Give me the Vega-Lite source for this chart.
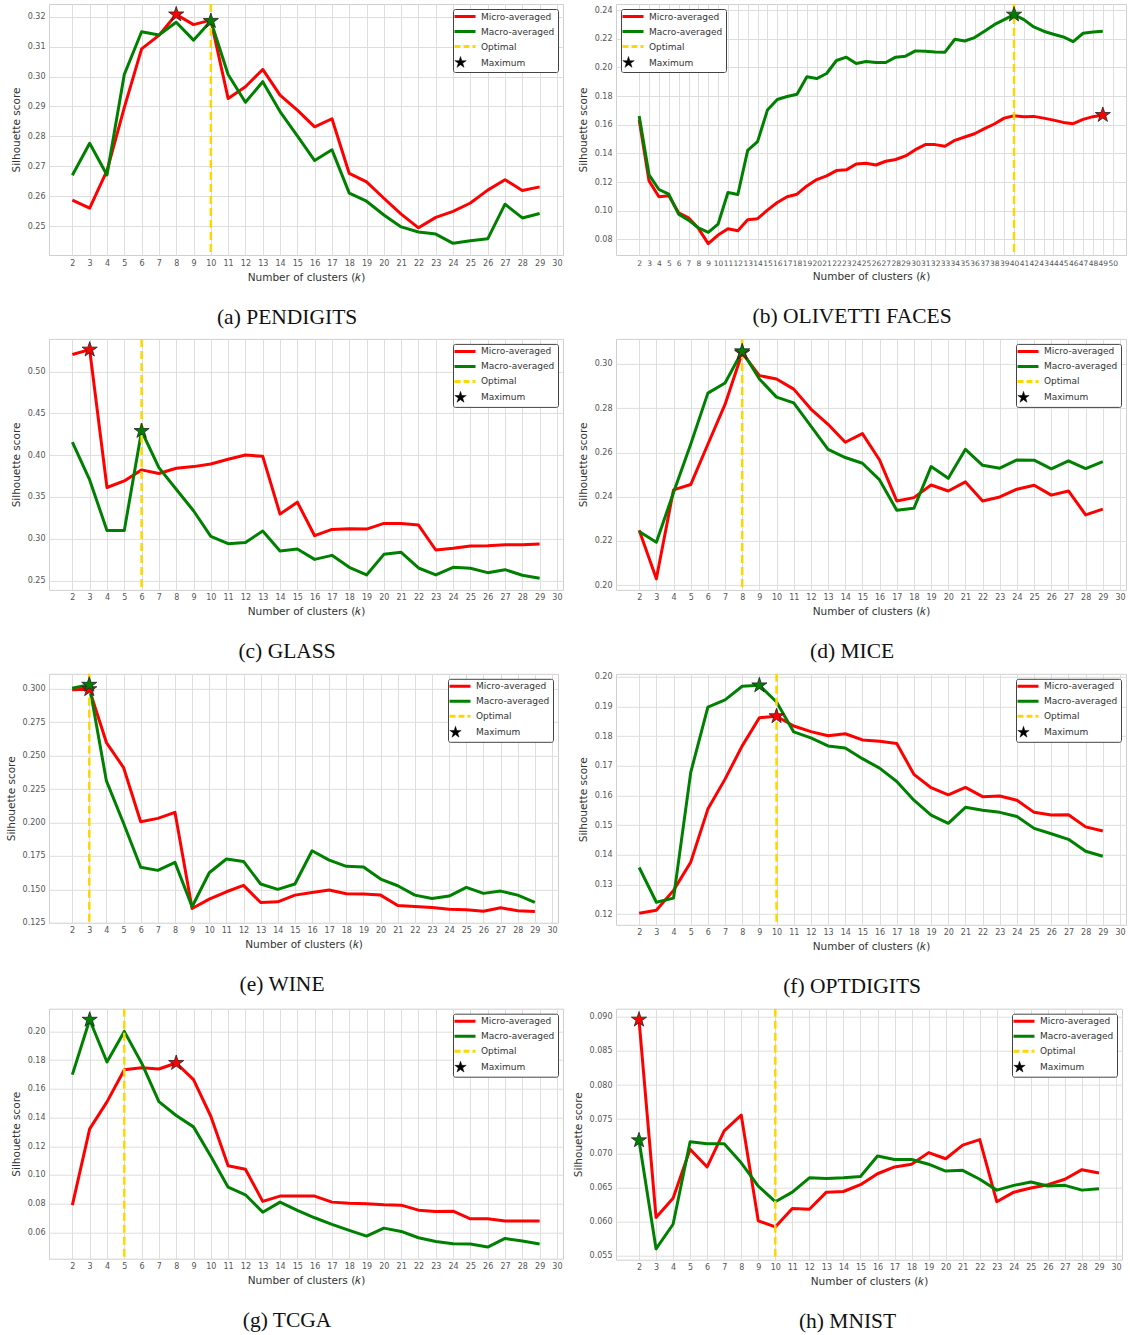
{
"$schema": "https://vega.github.io/schema/vega-lite/v6.json",
"background": "white",
"padding": {"left": 5, "top": 2, "right": 1, "bottom": 0},
"config": {
  "font": "DejaVu Sans",
  "view": {"stroke": "#cfcfcf", "strokeWidth": 1},
  "axis": {"grid": true, "gridColor": "#dedede", "gridWidth": 1, "domain": false, "ticks": false, "tickCount": 100,
    "labelFont": "DejaVu Sans", "labelFontSize": 8, "labelColor": "#555", "labelPadding": 4,
    "labelOverlap": false, "labelFlush": false, "labelBound": false,
    "titleFont": "DejaVu Sans", "titleFontSize": 10.5, "titleFontWeight": "normal", "titleColor": "#333"},
  "axisX": {"titlePadding": 5},
  "axisY": {"titlePadding": 6},
  "legend": {"labelFont": "DejaVu Sans", "labelFontSize": 9, "labelColor": "#333", "strokeColor": "#444",
    "fillColor": "white", "padding": 3, "cornerRadius": 2, "rowPadding": 2, "symbolSize": 144,
    "symbolStrokeWidth": 3, "labelOffset": 16, "offset": 5, "orient": "top-right"},
  "title": {"orient": "bottom", "frame": "bounds", "font": "Liberation Serif", "fontSize": 21.5, "fontWeight": "normal", "color": "#111", "offset": 24, "anchor": "middle"}
},
"datasets": {
"pendigits": [
{"k":2,"Micro-averaged":0.2587,"Macro-averaged":0.2670},{"k":3,"Micro-averaged":0.2560,"Macro-averaged":0.2777},{"k":4,"Micro-averaged":0.2685,"Macro-averaged":0.2671},{"k":5,"Micro-averaged":0.2896,"Macro-averaged":0.3007},{"k":6,"Micro-averaged":0.3093,"Macro-averaged":0.3150},{"k":7,"Micro-averaged":0.3138,"Macro-averaged":0.3139},{"k":8,"Micro-averaged":0.3208,"Macro-averaged":0.3182},{"k":9,"Micro-averaged":0.3174,"Macro-averaged":0.3122},{"k":10,"Micro-averaged":0.3189,"Macro-averaged":0.3186},{"k":11,"Micro-averaged":0.2927,"Macro-averaged":0.3007},{"k":12,"Micro-averaged":0.2966,"Macro-averaged":0.2914},{"k":13,"Micro-averaged":0.3024,"Macro-averaged":0.2983},{"k":14,"Micro-averaged":0.2938,"Macro-averaged":0.2883},{"k":15,"Micro-averaged":0.2888,"Macro-averaged":0.2802},{"k":16,"Micro-averaged":0.2832,"Macro-averaged":0.2719},{"k":17,"Micro-averaged":0.2859,"Macro-averaged":0.2755},{"k":18,"Micro-averaged":0.2676,"Macro-averaged":0.2610},{"k":19,"Micro-averaged":0.2648,"Macro-averaged":0.2583},{"k":20,"Micro-averaged":0.2593,"Macro-averaged":0.2537},{"k":21,"Micro-averaged":0.2540,"Macro-averaged":0.2497},{"k":22,"Micro-averaged":0.2494,"Macro-averaged":0.2480},{"k":23,"Micro-averaged":0.2529,"Macro-averaged":0.2473},{"k":24,"Micro-averaged":0.2549,"Macro-averaged":0.2442},{"k":25,"Micro-averaged":0.2577,"Macro-averaged":0.2451},{"k":26,"Micro-averaged":0.2620,"Macro-averaged":0.2457},{"k":27,"Micro-averaged":0.2655,"Macro-averaged":0.2573},{"k":28,"Micro-averaged":0.2619,"Macro-averaged":0.2527},{"k":29,"Micro-averaged":0.2631,"Macro-averaged":0.2542}],
"olivetti": [
{"k":2,"Micro-averaged":0.1632,"Macro-averaged":0.1660},{"k":3,"Micro-averaged":0.1208,"Macro-averaged":0.1250},{"k":4,"Micro-averaged":0.1097,"Macro-averaged":0.1148},{"k":5,"Micro-averaged":0.1104,"Macro-averaged":0.1115},{"k":6,"Micro-averaged":0.0986,"Macro-averaged":0.0976},{"k":7,"Micro-averaged":0.0951,"Macro-averaged":0.0934},{"k":8,"Micro-averaged":0.0877,"Macro-averaged":0.0881},{"k":9,"Micro-averaged":0.0770,"Macro-averaged":0.0849},{"k":10,"Micro-averaged":0.0830,"Macro-averaged":0.0907},{"k":11,"Micro-averaged":0.0874,"Macro-averaged":0.1127},{"k":12,"Micro-averaged":0.0860,"Macro-averaged":0.1113},{"k":13,"Micro-averaged":0.0937,"Macro-averaged":0.1421},{"k":14,"Micro-averaged":0.0944,"Macro-averaged":0.1482},{"k":15,"Micro-averaged":0.1004,"Macro-averaged":0.1702},{"k":16,"Micro-averaged":0.1057,"Macro-averaged":0.1776},{"k":17,"Micro-averaged":0.1097,"Macro-averaged":0.1797},{"k":18,"Micro-averaged":0.1115,"Macro-averaged":0.1813},{"k":19,"Micro-averaged":0.1173,"Macro-averaged":0.1934},{"k":20,"Micro-averaged":0.1217,"Macro-averaged":0.1922},{"k":21,"Micro-averaged":0.1243,"Macro-averaged":0.1957},{"k":22,"Micro-averaged":0.1280,"Macro-averaged":0.2048},{"k":23,"Micro-averaged":0.1285,"Macro-averaged":0.2071},{"k":24,"Micro-averaged":0.1326,"Macro-averaged":0.2027},{"k":25,"Micro-averaged":0.1331,"Macro-averaged":0.2041},{"k":26,"Micro-averaged":0.1319,"Macro-averaged":0.2034},{"k":27,"Micro-averaged":0.1345,"Macro-averaged":0.2034},{"k":28,"Micro-averaged":0.1357,"Macro-averaged":0.2071},{"k":29,"Micro-averaged":0.1382,"Macro-averaged":0.2078},{"k":30,"Micro-averaged":0.1426,"Macro-averaged":0.2115},{"k":31,"Micro-averaged":0.1461,"Macro-averaged":0.2112},{"k":32,"Micro-averaged":0.1461,"Macro-averaged":0.2108},{"k":33,"Micro-averaged":0.1449,"Macro-averaged":0.2106},{"k":34,"Micro-averaged":0.1491,"Macro-averaged":0.2196},{"k":35,"Micro-averaged":0.1514,"Macro-averaged":0.2184},{"k":36,"Micro-averaged":0.1537,"Macro-averaged":0.2208},{"k":37,"Micro-averaged":0.1572,"Macro-averaged":0.2252},{"k":38,"Micro-averaged":0.1605,"Macro-averaged":0.2298},{"k":39,"Micro-averaged":0.1646,"Macro-averaged":0.2333},{"k":40,"Micro-averaged":0.1662,"Macro-averaged":0.2368},{"k":41,"Micro-averaged":0.1656,"Macro-averaged":0.2333},{"k":42,"Micro-averaged":0.1658,"Macro-averaged":0.2282},{"k":43,"Micro-averaged":0.1646,"Macro-averaged":0.2252},{"k":44,"Micro-averaged":0.1632,"Macro-averaged":0.2231},{"k":45,"Micro-averaged":0.1616,"Macro-averaged":0.2212},{"k":46,"Micro-averaged":0.1607,"Macro-averaged":0.2180},{"k":47,"Micro-averaged":0.1637,"Macro-averaged":0.2238},{"k":48,"Micro-averaged":0.1656,"Macro-averaged":0.2247},{"k":49,"Micro-averaged":0.1668,"Macro-averaged":0.2252}],
"glass": [
{"k":2,"Micro-averaged":0.5203,"Macro-averaged":0.4157},{"k":3,"Micro-averaged":0.5262,"Macro-averaged":0.3704},{"k":4,"Micro-averaged":0.3613,"Macro-averaged":0.3100},{"k":5,"Micro-averaged":0.3692,"Macro-averaged":0.3100},{"k":6,"Micro-averaged":0.3824,"Macro-averaged":0.4289},{"k":7,"Micro-averaged":0.3780,"Macro-averaged":0.3851},{"k":8,"Micro-averaged":0.3843,"Macro-averaged":0.3593},{"k":9,"Micro-averaged":0.3863,"Macro-averaged":0.3335},{"k":10,"Micro-averaged":0.3895,"Macro-averaged":0.3029},{"k":11,"Micro-averaged":0.3951,"Macro-averaged":0.2941},{"k":12,"Micro-averaged":0.4002,"Macro-averaged":0.2957},{"k":13,"Micro-averaged":0.3986,"Macro-averaged":0.3092},{"k":14,"Micro-averaged":0.3295,"Macro-averaged":0.2854},{"k":15,"Micro-averaged":0.3438,"Macro-averaged":0.2878},{"k":16,"Micro-averaged":0.3037,"Macro-averaged":0.2754},{"k":17,"Micro-averaged":0.3112,"Macro-averaged":0.2802},{"k":18,"Micro-averaged":0.3120,"Macro-averaged":0.2659},{"k":19,"Micro-averaged":0.3116,"Macro-averaged":0.2568},{"k":20,"Micro-averaged":0.3184,"Macro-averaged":0.2814},{"k":21,"Micro-averaged":0.3184,"Macro-averaged":0.2838},{"k":22,"Micro-averaged":0.3164,"Macro-averaged":0.2651},{"k":23,"Micro-averaged":0.2866,"Macro-averaged":0.2568},{"k":24,"Micro-averaged":0.2886,"Macro-averaged":0.2659},{"k":25,"Micro-averaged":0.2913,"Macro-averaged":0.2647},{"k":26,"Micro-averaged":0.2917,"Macro-averaged":0.2595},{"k":27,"Micro-averaged":0.2929,"Macro-averaged":0.2631},{"k":28,"Micro-averaged":0.2929,"Macro-averaged":0.2564},{"k":29,"Micro-averaged":0.2937,"Macro-averaged":0.2528}],
"mice": [
{"k":2,"Micro-averaged":0.2249,"Macro-averaged":0.2243},{"k":3,"Micro-averaged":0.2029,"Macro-averaged":0.2194},{"k":4,"Micro-averaged":0.2431,"Macro-averaged":0.2419},{"k":5,"Micro-averaged":0.2455,"Macro-averaged":0.2637},{"k":6,"Micro-averaged":0.2637,"Macro-averaged":0.2868},{"k":7,"Micro-averaged":0.2817,"Macro-averaged":0.2914},{"k":8,"Micro-averaged":0.3050,"Macro-averaged":0.3057},{"k":9,"Micro-averaged":0.2947,"Macro-averaged":0.2932},{"k":10,"Micro-averaged":0.2932,"Macro-averaged":0.2850},{"k":11,"Micro-averaged":0.2886,"Macro-averaged":0.2824},{"k":12,"Micro-averaged":0.2796,"Macro-averaged":0.2719},{"k":13,"Micro-averaged":0.2727,"Macro-averaged":0.2614},{"k":14,"Micro-averaged":0.2646,"Macro-averaged":0.2577},{"k":15,"Micro-averaged":0.2685,"Macro-averaged":0.2551},{"k":16,"Micro-averaged":0.2566,"Macro-averaged":0.2476},{"k":17,"Micro-averaged":0.2381,"Macro-averaged":0.2339},{"k":18,"Micro-averaged":0.2396,"Macro-averaged":0.2348},{"k":19,"Micro-averaged":0.2453,"Macro-averaged":0.2536},{"k":20,"Micro-averaged":0.2426,"Macro-averaged":0.2483},{"k":21,"Micro-averaged":0.2467,"Macro-averaged":0.2614},{"k":22,"Micro-averaged":0.2381,"Macro-averaged":0.2542},{"k":23,"Micro-averaged":0.2399,"Macro-averaged":0.2529},{"k":24,"Micro-averaged":0.2434,"Macro-averaged":0.2566},{"k":25,"Micro-averaged":0.2452,"Macro-averaged":0.2565},{"k":26,"Micro-averaged":0.2407,"Macro-averaged":0.2526},{"k":27,"Micro-averaged":0.2426,"Macro-averaged":0.2562},{"k":28,"Micro-averaged":0.2318,"Macro-averaged":0.2527},{"k":29,"Micro-averaged":0.2344,"Macro-averaged":0.2559}],
"wine": [
{"k":2,"Micro-averaged":0.2993,"Macro-averaged":0.3005},{"k":3,"Micro-averaged":0.2997,"Macro-averaged":0.3030},{"k":4,"Micro-averaged":0.2598,"Macro-averaged":0.2311},{"k":5,"Micro-averaged":0.2411,"Macro-averaged":0.1994},{"k":6,"Micro-averaged":0.2006,"Macro-averaged":0.1665},{"k":7,"Micro-averaged":0.2031,"Macro-averaged":0.1642},{"k":8,"Micro-averaged":0.2076,"Macro-averaged":0.1702},{"k":9,"Micro-averaged":0.1357,"Macro-averaged":0.1370},{"k":10,"Micro-averaged":0.1427,"Macro-averaged":0.1624},{"k":11,"Micro-averaged":0.1482,"Macro-averaged":0.1727},{"k":12,"Micro-averaged":0.1530,"Macro-averaged":0.1709},{"k":13,"Micro-averaged":0.1402,"Macro-averaged":0.1540},{"k":14,"Micro-averaged":0.1407,"Macro-averaged":0.1500},{"k":15,"Micro-averaged":0.1457,"Macro-averaged":0.1540},{"k":16,"Micro-averaged":0.1477,"Macro-averaged":0.1789},{"k":17,"Micro-averaged":0.1495,"Macro-averaged":0.1719},{"k":18,"Micro-averaged":0.1467,"Macro-averaged":0.1672},{"k":19,"Micro-averaged":0.1465,"Macro-averaged":0.1667},{"k":20,"Micro-averaged":0.1457,"Macro-averaged":0.1577},{"k":21,"Micro-averaged":0.1380,"Macro-averaged":0.1527},{"k":22,"Micro-averaged":0.1372,"Macro-averaged":0.1457},{"k":23,"Micro-averaged":0.1365,"Macro-averaged":0.1432},{"k":24,"Micro-averaged":0.1352,"Macro-averaged":0.1450},{"k":25,"Micro-averaged":0.1347,"Macro-averaged":0.1515},{"k":26,"Micro-averaged":0.1337,"Macro-averaged":0.1470},{"k":27,"Micro-averaged":0.1362,"Macro-averaged":0.1487},{"k":28,"Micro-averaged":0.1340,"Macro-averaged":0.1457},{"k":29,"Micro-averaged":0.1335,"Macro-averaged":0.1402}],
"optdigits": [
{"k":2,"Micro-averaged":0.1203,"Macro-averaged":0.1357},{"k":3,"Micro-averaged":0.1213,"Macro-averaged":0.1240},{"k":4,"Micro-averaged":0.1280,"Macro-averaged":0.1254},{"k":5,"Micro-averaged":0.1375,"Macro-averaged":0.1677},{"k":6,"Micro-averaged":0.1554,"Macro-averaged":0.1898},{"k":7,"Micro-averaged":0.1655,"Macro-averaged":0.1922},{"k":8,"Micro-averaged":0.1767,"Macro-averaged":0.1968},{"k":9,"Micro-averaged":0.1862,"Macro-averaged":0.1971},{"k":10,"Micro-averaged":0.1867,"Macro-averaged":0.1915},{"k":11,"Micro-averaged":0.1834,"Macro-averaged":0.1814},{"k":12,"Micro-averaged":0.1815,"Macro-averaged":0.1794},{"k":13,"Micro-averaged":0.1801,"Macro-averaged":0.1767},{"k":14,"Micro-averaged":0.1808,"Macro-averaged":0.1760},{"k":15,"Micro-averaged":0.1787,"Macro-averaged":0.1724},{"k":16,"Micro-averaged":0.1783,"Macro-averaged":0.1692},{"k":17,"Micro-averaged":0.1775,"Macro-averaged":0.1647},{"k":18,"Micro-averaged":0.1671,"Macro-averaged":0.1584},{"k":19,"Micro-averaged":0.1626,"Macro-averaged":0.1534},{"k":20,"Micro-averaged":0.1602,"Macro-averaged":0.1506},{"k":21,"Micro-averaged":0.1627,"Macro-averaged":0.1560},{"k":22,"Micro-averaged":0.1596,"Macro-averaged":0.1550},{"k":23,"Micro-averaged":0.1598,"Macro-averaged":0.1543},{"k":24,"Micro-averaged":0.1584,"Macro-averaged":0.1529},{"k":25,"Micro-averaged":0.1543,"Macro-averaged":0.1489},{"k":26,"Micro-averaged":0.1534,"Macro-averaged":0.1471},{"k":27,"Micro-averaged":0.1535,"Macro-averaged":0.1452},{"k":28,"Micro-averaged":0.1494,"Macro-averaged":0.1412},{"k":29,"Micro-averaged":0.1480,"Macro-averaged":0.1395}],
"tcga": [
{"k":2,"Micro-averaged":0.0790,"Macro-averaged":0.1699},{"k":3,"Micro-averaged":0.1321,"Macro-averaged":0.2081},{"k":4,"Micro-averaged":0.1509,"Macro-averaged":0.1787},{"k":5,"Micro-averaged":0.1733,"Macro-averaged":0.2000},{"k":6,"Micro-averaged":0.1747,"Macro-averaged":0.1780},{"k":7,"Micro-averaged":0.1738,"Macro-averaged":0.1511},{"k":8,"Micro-averaged":0.1780,"Macro-averaged":0.1414},{"k":9,"Micro-averaged":0.1664,"Macro-averaged":0.1335},{"k":10,"Micro-averaged":0.1409,"Macro-averaged":0.1131},{"k":11,"Micro-averaged":0.1064,"Macro-averaged":0.0915},{"k":12,"Micro-averaged":0.1040,"Macro-averaged":0.0862},{"k":13,"Micro-averaged":0.0816,"Macro-averaged":0.0741},{"k":14,"Micro-averaged":0.0853,"Macro-averaged":0.0811},{"k":15,"Micro-averaged":0.0853,"Macro-averaged":0.0753},{"k":16,"Micro-averaged":0.0853,"Macro-averaged":0.0702},{"k":17,"Micro-averaged":0.0811,"Macro-averaged":0.0656},{"k":18,"Micro-averaged":0.0804,"Macro-averaged":0.0614},{"k":19,"Micro-averaged":0.0800,"Macro-averaged":0.0574},{"k":20,"Micro-averaged":0.0792,"Macro-averaged":0.0630},{"k":21,"Micro-averaged":0.0790,"Macro-averaged":0.0607},{"k":22,"Micro-averaged":0.0755,"Macro-averaged":0.0563},{"k":23,"Micro-averaged":0.0746,"Macro-averaged":0.0537},{"k":24,"Micro-averaged":0.0748,"Macro-averaged":0.0521},{"k":25,"Micro-averaged":0.0695,"Macro-averaged":0.0519},{"k":26,"Micro-averaged":0.0695,"Macro-averaged":0.0498},{"k":27,"Micro-averaged":0.0679,"Macro-averaged":0.0558},{"k":28,"Micro-averaged":0.0679,"Macro-averaged":0.0540},{"k":29,"Micro-averaged":0.0679,"Macro-averaged":0.0519}],
"mnist": [
{"k":2,"Micro-averaged":0.0896,"Macro-averaged":0.0719},{"k":3,"Micro-averaged":0.0606,"Macro-averaged":0.0560},{"k":4,"Micro-averaged":0.0634,"Macro-averaged":0.0596},{"k":5,"Micro-averaged":0.0706,"Macro-averaged":0.0717},{"k":6,"Micro-averaged":0.0680,"Macro-averaged":0.0714},{"k":7,"Micro-averaged":0.0733,"Macro-averaged":0.0714},{"k":8,"Micro-averaged":0.0756,"Macro-averaged":0.0686},{"k":9,"Micro-averaged":0.0601,"Macro-averaged":0.0652},{"k":10,"Micro-averaged":0.0592,"Macro-averaged":0.0629},{"k":11,"Micro-averaged":0.0619,"Macro-averaged":0.0643},{"k":12,"Micro-averaged":0.0618,"Macro-averaged":0.0664},{"k":13,"Micro-averaged":0.0643,"Macro-averaged":0.0663},{"k":14,"Micro-averaged":0.0644,"Macro-averaged":0.0664},{"k":15,"Micro-averaged":0.0654,"Macro-averaged":0.0666},{"k":16,"Micro-averaged":0.0670,"Macro-averaged":0.0696},{"k":17,"Micro-averaged":0.0680,"Macro-averaged":0.0691},{"k":18,"Micro-averaged":0.0684,"Macro-averaged":0.0691},{"k":19,"Micro-averaged":0.0701,"Macro-averaged":0.0684},{"k":20,"Micro-averaged":0.0692,"Macro-averaged":0.0674},{"k":21,"Micro-averaged":0.0712,"Macro-averaged":0.0675},{"k":22,"Micro-averaged":0.0720,"Macro-averaged":0.0662},{"k":23,"Micro-averaged":0.0629,"Macro-averaged":0.0646},{"k":24,"Micro-averaged":0.0643,"Macro-averaged":0.0653},{"k":25,"Micro-averaged":0.0649,"Macro-averaged":0.0658},{"k":26,"Micro-averaged":0.0654,"Macro-averaged":0.0652},{"k":27,"Micro-averaged":0.0662,"Macro-averaged":0.0653},{"k":28,"Micro-averaged":0.0676,"Macro-averaged":0.0646},{"k":29,"Micro-averaged":0.0671,"Macro-averaged":0.0648}]
},
"columns": 2,
"spacing": {"row": 7.9, "column": 8},
"resolve": {"scale": {"color": "independent", "x": "independent", "y": "independent"}, "legend": {"color": "independent"}},
"concat": [
{"width": 514, "height": 251, "title": {"text": "(a) PENDIGITS"},
 "layer": [
  {"data": {"name": "pendigits"}, "transform": [{"fold": ["Micro-averaged", "Macro-averaged"], "as": ["series", "value"]}],
   "mark": {"type": "line", "strokeWidth": 3, "strokeJoin": "round"},
   "encoding": {
    "x": {"field": "k", "type": "quantitative", "scale": {"domain": [0.65, 30.35], "nice": false, "zero": false}, "axis": {"values": [2,3,4,5,6,7,8,9,10,11,12,13,14,15,16,17,18,19,20,21,22,23,24,25,26,27,28,29,30], "format": "d", "title": "Number of clusters (𝑘)"}},
    "y": {"field": "value", "type": "quantitative", "scale": {"domain": [0.2403, 0.3243], "nice": false, "zero": false}, "axis": {"values": [0.25,0.26,0.27,0.28,0.29,0.30,0.31,0.32], "format": ".2f", "title": "Silhouette score"}},
    "color": {"field": "series", "type": "nominal", "scale": {"domain": ["Micro-averaged", "Macro-averaged", "Optimal", "Maximum"], "range": ["#ff0000", "#008000", "#ffd700", "#000000"]},
     "legend": {"title": null, "orient": "top-right", "encode": {"symbols": {"update": {
       "shape": {"signal": "datum.value === 'Maximum' ? 'M0,-1L0.2245,-0.309L0.9511,-0.309L0.3633,0.118L0.5878,0.809L0,0.382L-0.5878,0.809L-0.3633,0.118L-0.9511,-0.309L-0.2245,-0.309Z' : 'M-1,0L2.5,0'"},
       "fill": {"signal": "datum.value === 'Maximum' ? 'black' : 'transparent'"},
       "stroke": {"signal": "datum.value === 'Maximum' ? 'black' : datum.value === 'Optimal' ? '#ffd700' : datum.value === 'Micro-averaged' ? '#ff0000' : '#008000'"},
       "strokeWidth": {"signal": "datum.value === 'Maximum' ? 0.5 : 3"},
       "strokeDash": {"signal": "datum.value === 'Optimal' ? [6, 3] : [1, 0]"},
       "opacity": {"value": 1}}}}}}
   }},
  {"data": {"values": [{"k": 10, "series": "Optimal"}]}, "mark": {"type": "rule", "strokeDash": [8, 4], "strokeWidth": 2.5},
   "encoding": {"x": {"field": "k", "type": "quantitative"}, "color": {"field": "series", "type": "nominal"}}},
  {"data": {"name": "pendigits"}, "transform": [{"fold": ["Micro-averaged", "Macro-averaged"], "as": ["series", "value"]}, {"joinaggregate": [{"op": "max", "field": "value", "as": "mx"}], "groupby": ["series"]}, {"filter": "datum.value === datum.mx"}],
   "mark": {"type": "point", "shape": "M0,-1L0.2245,-0.309L0.9511,-0.309L0.3633,0.118L0.5878,0.809L0,0.382L-0.5878,0.809L-0.3633,0.118L-0.9511,-0.309L-0.2245,-0.309Z", "size": 255, "filled": true, "stroke": "#222", "strokeWidth": 0.8, "opacity": 1},
   "encoding": {"x": {"field": "k", "type": "quantitative"}, "y": {"field": "value", "type": "quantitative"}, "color": {"field": "series", "type": "nominal"}}}
 ]},
{"width": 510, "height": 251, "title": {"text": "(b) OLIVETTI FACES"},
 "layer": [
  {"data": {"name": "olivetti"}, "transform": [{"fold": ["Micro-averaged", "Macro-averaged"], "as": ["series", "value"]}],
   "mark": {"type": "line", "strokeWidth": 3, "strokeJoin": "round"},
   "encoding": {
    "x": {"field": "k", "type": "quantitative", "scale": {"domain": [-0.35, 51.35], "nice": false, "zero": false}, "axis": {"values": [2,3,4,5,6,7,8,9,10,11,12,13,14,15,16,17,18,19,20,21,22,23,24,25,26,27,28,29,30,31,32,33,34,35,36,37,38,39,40,41,42,43,44,45,46,47,48,49,50], "format": "d", "labelFontSize": 7.5, "title": "Number of clusters (𝑘)"}},
    "y": {"field": "value", "type": "quantitative", "scale": {"domain": [0.0691, 0.2442], "nice": false, "zero": false}, "axis": {"values": [0.08,0.10,0.12,0.14,0.16,0.18,0.20,0.22,0.24], "format": ".2f", "title": "Silhouette score"}},
    "color": {"field": "series", "type": "nominal", "scale": {"domain": ["Micro-averaged", "Macro-averaged", "Optimal", "Maximum"], "range": ["#ff0000", "#008000", "#ffd700", "#000000"]},
     "legend": {"title": null, "orient": "top-left", "encode": {"symbols": {"update": {
       "shape": {"signal": "datum.value === 'Maximum' ? 'M0,-1L0.2245,-0.309L0.9511,-0.309L0.3633,0.118L0.5878,0.809L0,0.382L-0.5878,0.809L-0.3633,0.118L-0.9511,-0.309L-0.2245,-0.309Z' : 'M-1,0L2.5,0'"},
       "fill": {"signal": "datum.value === 'Maximum' ? 'black' : 'transparent'"},
       "stroke": {"signal": "datum.value === 'Maximum' ? 'black' : datum.value === 'Optimal' ? '#ffd700' : datum.value === 'Micro-averaged' ? '#ff0000' : '#008000'"},
       "strokeWidth": {"signal": "datum.value === 'Maximum' ? 0.5 : 3"},
       "strokeDash": {"signal": "datum.value === 'Optimal' ? [6, 3] : [1, 0]"},
       "opacity": {"value": 1}}}}}}
   }},
  {"data": {"values": [{"k": 40, "series": "Optimal"}]}, "mark": {"type": "rule", "strokeDash": [8, 4], "strokeWidth": 2.5},
   "encoding": {"x": {"field": "k", "type": "quantitative"}, "color": {"field": "series", "type": "nominal"}}},
  {"data": {"name": "olivetti"}, "transform": [{"fold": ["Micro-averaged", "Macro-averaged"], "as": ["series", "value"]}, {"joinaggregate": [{"op": "max", "field": "value", "as": "mx"}], "groupby": ["series"]}, {"filter": "datum.value === datum.mx"}],
   "mark": {"type": "point", "shape": "M0,-1L0.2245,-0.309L0.9511,-0.309L0.3633,0.118L0.5878,0.809L0,0.382L-0.5878,0.809L-0.3633,0.118L-0.9511,-0.309L-0.2245,-0.309Z", "size": 255, "filled": true, "stroke": "#222", "strokeWidth": 0.8, "opacity": 1},
   "encoding": {"x": {"field": "k", "type": "quantitative"}, "y": {"field": "value", "type": "quantitative"}, "color": {"field": "series", "type": "nominal"}}}
 ]},
{"width": 514, "height": 251, "title": {"text": "(c) GLASS"},
 "layer": [
  {"data": {"name": "glass"}, "transform": [{"fold": ["Micro-averaged", "Macro-averaged"], "as": ["series", "value"]}],
   "mark": {"type": "line", "strokeWidth": 3, "strokeJoin": "round"},
   "encoding": {
    "x": {"field": "k", "type": "quantitative", "scale": {"domain": [0.65, 30.35], "nice": false, "zero": false}, "axis": {"values": [2,3,4,5,6,7,8,9,10,11,12,13,14,15,16,17,18,19,20,21,22,23,24,25,26,27,28,29,30], "format": "d", "title": "Number of clusters (𝑘)"}},
    "y": {"field": "value", "type": "quantitative", "scale": {"domain": [0.2389, 0.5390], "nice": false, "zero": false}, "axis": {"values": [0.25,0.30,0.35,0.40,0.45,0.50], "format": ".2f", "title": "Silhouette score"}},
    "color": {"field": "series", "type": "nominal", "scale": {"domain": ["Micro-averaged", "Macro-averaged", "Optimal", "Maximum"], "range": ["#ff0000", "#008000", "#ffd700", "#000000"]},
     "legend": {"title": null, "orient": "top-right", "encode": {"symbols": {"update": {
       "shape": {"signal": "datum.value === 'Maximum' ? 'M0,-1L0.2245,-0.309L0.9511,-0.309L0.3633,0.118L0.5878,0.809L0,0.382L-0.5878,0.809L-0.3633,0.118L-0.9511,-0.309L-0.2245,-0.309Z' : 'M-1,0L2.5,0'"},
       "fill": {"signal": "datum.value === 'Maximum' ? 'black' : 'transparent'"},
       "stroke": {"signal": "datum.value === 'Maximum' ? 'black' : datum.value === 'Optimal' ? '#ffd700' : datum.value === 'Micro-averaged' ? '#ff0000' : '#008000'"},
       "strokeWidth": {"signal": "datum.value === 'Maximum' ? 0.5 : 3"},
       "strokeDash": {"signal": "datum.value === 'Optimal' ? [6, 3] : [1, 0]"},
       "opacity": {"value": 1}}}}}}
   }},
  {"data": {"values": [{"k": 6, "series": "Optimal"}]}, "mark": {"type": "rule", "strokeDash": [8, 4], "strokeWidth": 2.5},
   "encoding": {"x": {"field": "k", "type": "quantitative"}, "color": {"field": "series", "type": "nominal"}}},
  {"data": {"name": "glass"}, "transform": [{"fold": ["Micro-averaged", "Macro-averaged"], "as": ["series", "value"]}, {"joinaggregate": [{"op": "max", "field": "value", "as": "mx"}], "groupby": ["series"]}, {"filter": "datum.value === datum.mx"}],
   "mark": {"type": "point", "shape": "M0,-1L0.2245,-0.309L0.9511,-0.309L0.3633,0.118L0.5878,0.809L0,0.382L-0.5878,0.809L-0.3633,0.118L-0.9511,-0.309L-0.2245,-0.309Z", "size": 255, "filled": true, "stroke": "#222", "strokeWidth": 0.8, "opacity": 1},
   "encoding": {"x": {"field": "k", "type": "quantitative"}, "y": {"field": "value", "type": "quantitative"}, "color": {"field": "series", "type": "nominal"}}}
 ]},
{"width": 510, "height": 251, "title": {"text": "(d) MICE"},
 "layer": [
  {"data": {"name": "mice"}, "transform": [{"fold": ["Micro-averaged", "Macro-averaged"], "as": ["series", "value"]}],
   "mark": {"type": "line", "strokeWidth": 3, "strokeJoin": "round"},
   "encoding": {
    "x": {"field": "k", "type": "quantitative", "scale": {"domain": [0.65, 30.35], "nice": false, "zero": false}, "axis": {"values": [2,3,4,5,6,7,8,9,10,11,12,13,14,15,16,17,18,19,20,21,22,23,24,25,26,27,28,29,30], "format": "d", "title": "Number of clusters (𝑘)"}},
    "y": {"field": "value", "type": "quantitative", "scale": {"domain": [0.1979, 0.3113], "nice": false, "zero": false}, "axis": {"values": [0.20,0.22,0.24,0.26,0.28,0.30], "format": ".2f", "title": "Silhouette score"}},
    "color": {"field": "series", "type": "nominal", "scale": {"domain": ["Micro-averaged", "Macro-averaged", "Optimal", "Maximum"], "range": ["#ff0000", "#008000", "#ffd700", "#000000"]},
     "legend": {"title": null, "orient": "top-right", "encode": {"symbols": {"update": {
       "shape": {"signal": "datum.value === 'Maximum' ? 'M0,-1L0.2245,-0.309L0.9511,-0.309L0.3633,0.118L0.5878,0.809L0,0.382L-0.5878,0.809L-0.3633,0.118L-0.9511,-0.309L-0.2245,-0.309Z' : 'M-1,0L2.5,0'"},
       "fill": {"signal": "datum.value === 'Maximum' ? 'black' : 'transparent'"},
       "stroke": {"signal": "datum.value === 'Maximum' ? 'black' : datum.value === 'Optimal' ? '#ffd700' : datum.value === 'Micro-averaged' ? '#ff0000' : '#008000'"},
       "strokeWidth": {"signal": "datum.value === 'Maximum' ? 0.5 : 3"},
       "strokeDash": {"signal": "datum.value === 'Optimal' ? [6, 3] : [1, 0]"},
       "opacity": {"value": 1}}}}}}
   }},
  {"data": {"values": [{"k": 8, "series": "Optimal"}]}, "mark": {"type": "rule", "strokeDash": [8, 4], "strokeWidth": 2.5},
   "encoding": {"x": {"field": "k", "type": "quantitative"}, "color": {"field": "series", "type": "nominal"}}},
  {"data": {"name": "mice"}, "transform": [{"fold": ["Micro-averaged", "Macro-averaged"], "as": ["series", "value"]}, {"joinaggregate": [{"op": "max", "field": "value", "as": "mx"}], "groupby": ["series"]}, {"filter": "datum.value === datum.mx"}],
   "mark": {"type": "point", "shape": "M0,-1L0.2245,-0.309L0.9511,-0.309L0.3633,0.118L0.5878,0.809L0,0.382L-0.5878,0.809L-0.3633,0.118L-0.9511,-0.309L-0.2245,-0.309Z", "size": 255, "filled": true, "stroke": "#222", "strokeWidth": 0.8, "opacity": 1},
   "encoding": {"x": {"field": "k", "type": "quantitative"}, "y": {"field": "value", "type": "quantitative"}, "color": {"field": "series", "type": "nominal"}}}
 ]},
{"width": 509, "height": 249, "title": {"text": "(e) WINE"},
 "layer": [
  {"data": {"name": "wine"}, "transform": [{"fold": ["Micro-averaged", "Macro-averaged"], "as": ["series", "value"]}],
   "mark": {"type": "line", "strokeWidth": 3, "strokeJoin": "round"},
   "encoding": {
    "x": {"field": "k", "type": "quantitative", "scale": {"domain": [0.65, 30.35], "nice": false, "zero": false}, "axis": {"values": [2,3,4,5,6,7,8,9,10,11,12,13,14,15,16,17,18,19,20,21,22,23,24,25,26,27,28,29,30], "format": "d", "title": "Number of clusters (𝑘)"}},
    "y": {"field": "value", "type": "quantitative", "scale": {"domain": [0.1250, 0.3112], "nice": false, "zero": false}, "axis": {"values": [0.125,0.150,0.175,0.200,0.225,0.250,0.275,0.300], "format": ".3f", "title": "Silhouette score"}},
    "color": {"field": "series", "type": "nominal", "scale": {"domain": ["Micro-averaged", "Macro-averaged", "Optimal", "Maximum"], "range": ["#ff0000", "#008000", "#ffd700", "#000000"]},
     "legend": {"title": null, "orient": "top-right", "encode": {"symbols": {"update": {
       "shape": {"signal": "datum.value === 'Maximum' ? 'M0,-1L0.2245,-0.309L0.9511,-0.309L0.3633,0.118L0.5878,0.809L0,0.382L-0.5878,0.809L-0.3633,0.118L-0.9511,-0.309L-0.2245,-0.309Z' : 'M-1,0L2.5,0'"},
       "fill": {"signal": "datum.value === 'Maximum' ? 'black' : 'transparent'"},
       "stroke": {"signal": "datum.value === 'Maximum' ? 'black' : datum.value === 'Optimal' ? '#ffd700' : datum.value === 'Micro-averaged' ? '#ff0000' : '#008000'"},
       "strokeWidth": {"signal": "datum.value === 'Maximum' ? 0.5 : 3"},
       "strokeDash": {"signal": "datum.value === 'Optimal' ? [6, 3] : [1, 0]"},
       "opacity": {"value": 1}}}}}}
   }},
  {"data": {"values": [{"k": 3, "series": "Optimal"}]}, "mark": {"type": "rule", "strokeDash": [8, 4], "strokeWidth": 2.5},
   "encoding": {"x": {"field": "k", "type": "quantitative"}, "color": {"field": "series", "type": "nominal"}}},
  {"data": {"name": "wine"}, "transform": [{"fold": ["Micro-averaged", "Macro-averaged"], "as": ["series", "value"]}, {"joinaggregate": [{"op": "max", "field": "value", "as": "mx"}], "groupby": ["series"]}, {"filter": "datum.value === datum.mx"}],
   "mark": {"type": "point", "shape": "M0,-1L0.2245,-0.309L0.9511,-0.309L0.3633,0.118L0.5878,0.809L0,0.382L-0.5878,0.809L-0.3633,0.118L-0.9511,-0.309L-0.2245,-0.309Z", "size": 255, "filled": true, "stroke": "#222", "strokeWidth": 0.8, "opacity": 1},
   "encoding": {"x": {"field": "k", "type": "quantitative"}, "y": {"field": "value", "type": "quantitative"}, "color": {"field": "series", "type": "nominal"}}}
 ]},
{"width": 510, "height": 251, "title": {"text": "(f) OPTDIGITS"},
 "layer": [
  {"data": {"name": "optdigits"}, "transform": [{"fold": ["Micro-averaged", "Macro-averaged"], "as": ["series", "value"]}],
   "mark": {"type": "line", "strokeWidth": 3, "strokeJoin": "round"},
   "encoding": {
    "x": {"field": "k", "type": "quantitative", "scale": {"domain": [0.65, 30.35], "nice": false, "zero": false}, "axis": {"values": [2,3,4,5,6,7,8,9,10,11,12,13,14,15,16,17,18,19,20,21,22,23,24,25,26,27,28,29,30], "format": "d", "title": "Number of clusters (𝑘)"}},
    "y": {"field": "value", "type": "quantitative", "scale": {"domain": [0.1164, 0.2010], "nice": false, "zero": false}, "axis": {"values": [0.12,0.13,0.14,0.15,0.16,0.17,0.18,0.19,0.20], "format": ".2f", "title": "Silhouette score"}},
    "color": {"field": "series", "type": "nominal", "scale": {"domain": ["Micro-averaged", "Macro-averaged", "Optimal", "Maximum"], "range": ["#ff0000", "#008000", "#ffd700", "#000000"]},
     "legend": {"title": null, "orient": "top-right", "encode": {"symbols": {"update": {
       "shape": {"signal": "datum.value === 'Maximum' ? 'M0,-1L0.2245,-0.309L0.9511,-0.309L0.3633,0.118L0.5878,0.809L0,0.382L-0.5878,0.809L-0.3633,0.118L-0.9511,-0.309L-0.2245,-0.309Z' : 'M-1,0L2.5,0'"},
       "fill": {"signal": "datum.value === 'Maximum' ? 'black' : 'transparent'"},
       "stroke": {"signal": "datum.value === 'Maximum' ? 'black' : datum.value === 'Optimal' ? '#ffd700' : datum.value === 'Micro-averaged' ? '#ff0000' : '#008000'"},
       "strokeWidth": {"signal": "datum.value === 'Maximum' ? 0.5 : 3"},
       "strokeDash": {"signal": "datum.value === 'Optimal' ? [6, 3] : [1, 0]"},
       "opacity": {"value": 1}}}}}}
   }},
  {"data": {"values": [{"k": 10, "series": "Optimal"}]}, "mark": {"type": "rule", "strokeDash": [8, 4], "strokeWidth": 2.5},
   "encoding": {"x": {"field": "k", "type": "quantitative"}, "color": {"field": "series", "type": "nominal"}}},
  {"data": {"name": "optdigits"}, "transform": [{"fold": ["Micro-averaged", "Macro-averaged"], "as": ["series", "value"]}, {"joinaggregate": [{"op": "max", "field": "value", "as": "mx"}], "groupby": ["series"]}, {"filter": "datum.value === datum.mx"}],
   "mark": {"type": "point", "shape": "M0,-1L0.2245,-0.309L0.9511,-0.309L0.3633,0.118L0.5878,0.809L0,0.382L-0.5878,0.809L-0.3633,0.118L-0.9511,-0.309L-0.2245,-0.309Z", "size": 255, "filled": true, "stroke": "#222", "strokeWidth": 0.8, "opacity": 1},
   "encoding": {"x": {"field": "k", "type": "quantitative"}, "y": {"field": "value", "type": "quantitative"}, "color": {"field": "series", "type": "nominal"}}}
 ]},
{"width": 514, "height": 250, "title": {"text": "(g) TCGA"},
 "layer": [
  {"data": {"name": "tcga"}, "transform": [{"fold": ["Micro-averaged", "Macro-averaged"], "as": ["series", "value"]}],
   "mark": {"type": "line", "strokeWidth": 3, "strokeJoin": "round"},
   "encoding": {
    "x": {"field": "k", "type": "quantitative", "scale": {"domain": [0.65, 30.35], "nice": false, "zero": false}, "axis": {"values": [2,3,4,5,6,7,8,9,10,11,12,13,14,15,16,17,18,19,20,21,22,23,24,25,26,27,28,29,30], "format": "d", "title": "Number of clusters (𝑘)"}},
    "y": {"field": "value", "type": "quantitative", "scale": {"domain": [0.0417, 0.2158], "nice": false, "zero": false}, "axis": {"values": [0.06,0.08,0.10,0.12,0.14,0.16,0.18,0.20], "format": ".2f", "title": "Silhouette score"}},
    "color": {"field": "series", "type": "nominal", "scale": {"domain": ["Micro-averaged", "Macro-averaged", "Optimal", "Maximum"], "range": ["#ff0000", "#008000", "#ffd700", "#000000"]},
     "legend": {"title": null, "orient": "top-right", "encode": {"symbols": {"update": {
       "shape": {"signal": "datum.value === 'Maximum' ? 'M0,-1L0.2245,-0.309L0.9511,-0.309L0.3633,0.118L0.5878,0.809L0,0.382L-0.5878,0.809L-0.3633,0.118L-0.9511,-0.309L-0.2245,-0.309Z' : 'M-1,0L2.5,0'"},
       "fill": {"signal": "datum.value === 'Maximum' ? 'black' : 'transparent'"},
       "stroke": {"signal": "datum.value === 'Maximum' ? 'black' : datum.value === 'Optimal' ? '#ffd700' : datum.value === 'Micro-averaged' ? '#ff0000' : '#008000'"},
       "strokeWidth": {"signal": "datum.value === 'Maximum' ? 0.5 : 3"},
       "strokeDash": {"signal": "datum.value === 'Optimal' ? [6, 3] : [1, 0]"},
       "opacity": {"value": 1}}}}}}
   }},
  {"data": {"values": [{"k": 5, "series": "Optimal"}]}, "mark": {"type": "rule", "strokeDash": [8, 4], "strokeWidth": 2.5},
   "encoding": {"x": {"field": "k", "type": "quantitative"}, "color": {"field": "series", "type": "nominal"}}},
  {"data": {"name": "tcga"}, "transform": [{"fold": ["Micro-averaged", "Macro-averaged"], "as": ["series", "value"]}, {"joinaggregate": [{"op": "max", "field": "value", "as": "mx"}], "groupby": ["series"]}, {"filter": "datum.value === datum.mx"}],
   "mark": {"type": "point", "shape": "M0,-1L0.2245,-0.309L0.9511,-0.309L0.3633,0.118L0.5878,0.809L0,0.382L-0.5878,0.809L-0.3633,0.118L-0.9511,-0.309L-0.2245,-0.309Z", "size": 255, "filled": true, "stroke": "#222", "strokeWidth": 0.8, "opacity": 1},
   "encoding": {"x": {"field": "k", "type": "quantitative"}, "y": {"field": "value", "type": "quantitative"}, "color": {"field": "series", "type": "nominal"}}}
 ]},
{"width": 506, "height": 251, "title": {"text": "(h) MNIST"},
 "layer": [
  {"data": {"name": "mnist"}, "transform": [{"fold": ["Micro-averaged", "Macro-averaged"], "as": ["series", "value"]}],
   "mark": {"type": "line", "strokeWidth": 3, "strokeJoin": "round"},
   "encoding": {
    "x": {"field": "k", "type": "quantitative", "scale": {"domain": [0.65, 30.35], "nice": false, "zero": false}, "axis": {"values": [2,3,4,5,6,7,8,9,10,11,12,13,14,15,16,17,18,19,20,21,22,23,24,25,26,27,28,29,30], "format": "d", "title": "Number of clusters (𝑘)"}},
    "y": {"field": "value", "type": "quantitative", "scale": {"domain": [0.0544, 0.0912], "nice": false, "zero": false}, "axis": {"values": [0.055,0.060,0.065,0.070,0.075,0.080,0.085,0.090], "format": ".3f", "title": "Silhouette score"}},
    "color": {"field": "series", "type": "nominal", "scale": {"domain": ["Micro-averaged", "Macro-averaged", "Optimal", "Maximum"], "range": ["#ff0000", "#008000", "#ffd700", "#000000"]},
     "legend": {"title": null, "orient": "top-right", "encode": {"symbols": {"update": {
       "shape": {"signal": "datum.value === 'Maximum' ? 'M0,-1L0.2245,-0.309L0.9511,-0.309L0.3633,0.118L0.5878,0.809L0,0.382L-0.5878,0.809L-0.3633,0.118L-0.9511,-0.309L-0.2245,-0.309Z' : 'M-1,0L2.5,0'"},
       "fill": {"signal": "datum.value === 'Maximum' ? 'black' : 'transparent'"},
       "stroke": {"signal": "datum.value === 'Maximum' ? 'black' : datum.value === 'Optimal' ? '#ffd700' : datum.value === 'Micro-averaged' ? '#ff0000' : '#008000'"},
       "strokeWidth": {"signal": "datum.value === 'Maximum' ? 0.5 : 3"},
       "strokeDash": {"signal": "datum.value === 'Optimal' ? [6, 3] : [1, 0]"},
       "opacity": {"value": 1}}}}}}
   }},
  {"data": {"values": [{"k": 10, "series": "Optimal"}]}, "mark": {"type": "rule", "strokeDash": [8, 4], "strokeWidth": 2.5},
   "encoding": {"x": {"field": "k", "type": "quantitative"}, "color": {"field": "series", "type": "nominal"}}},
  {"data": {"name": "mnist"}, "transform": [{"fold": ["Micro-averaged", "Macro-averaged"], "as": ["series", "value"]}, {"joinaggregate": [{"op": "max", "field": "value", "as": "mx"}], "groupby": ["series"]}, {"filter": "datum.value === datum.mx"}],
   "mark": {"type": "point", "shape": "M0,-1L0.2245,-0.309L0.9511,-0.309L0.3633,0.118L0.5878,0.809L0,0.382L-0.5878,0.809L-0.3633,0.118L-0.9511,-0.309L-0.2245,-0.309Z", "size": 255, "filled": true, "stroke": "#222", "strokeWidth": 0.8, "opacity": 1},
   "encoding": {"x": {"field": "k", "type": "quantitative"}, "y": {"field": "value", "type": "quantitative"}, "color": {"field": "series", "type": "nominal"}}}
 ]}
]
}
